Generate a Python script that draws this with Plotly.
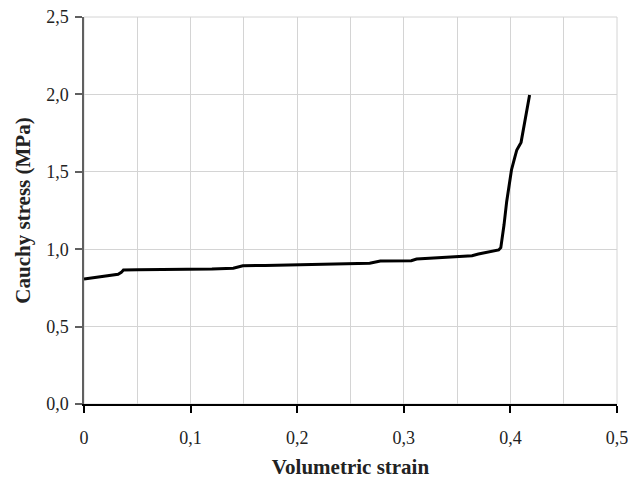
import plotly.graph_objects as go

# Data
strain = [0.000, 0.010, 0.020, 0.032, 0.035, 0.037, 0.050, 0.070, 0.099, 0.120, 0.140, 0.145,
          0.149, 0.170, 0.198, 0.220, 0.250, 0.268, 0.278, 0.296, 0.307, 0.312, 0.330, 0.350,
          0.364, 0.370, 0.380, 0.389, 0.391, 0.393, 0.394, 0.3965, 0.399, 0.401, 0.404, 0.406,
          0.410, 0.414, 0.418]
stress = [0.807, 0.816, 0.826, 0.838, 0.850, 0.866, 0.867, 0.868, 0.869, 0.872, 0.877, 0.884,
          0.893, 0.895, 0.900, 0.905, 0.910, 0.910, 0.924, 0.926, 0.926, 0.936, 0.943, 0.952,
          0.958, 0.969, 0.982, 0.995, 1.010, 1.090, 1.156, 1.307, 1.420, 1.512, 1.590, 1.641,
          1.690, 1.850, 1.996]

x_tickvals = [0, 0.1, 0.2, 0.3, 0.4, 0.5]
x_ticktext = ["0", "0,1", "0,2", "0,3", "0,4", "0,5"]
y_tickvals = [0, 0.5, 1.0, 1.5, 2.0, 2.5]
y_ticktext = ["0,0", "0,5", "1,0", "1,5", "2,0", "2,5"]

x_title = "Volumetric strain"
y_title = "Cauchy stress (MPa)"

FONT = "Liberation Serif"
GRID = "#d4d4d4"

fig = go.Figure()
fig.add_trace(go.Scatter(x=strain, y=stress, mode="lines",
                         line=dict(color="black", width=3), showlegend=False,
                         cliponaxis=False))

fig.update_layout(
    width=628, height=484,
    margin=dict(l=84, r=11, t=17, b=80, autoexpand=False),
    paper_bgcolor="white", plot_bgcolor="white",
    font=dict(family=FONT, size=18, color="#222222"),
    shapes=[dict(type="rect", xref="paper", yref="paper", x0=0, x1=1, y0=0, y1=1,
                 line=dict(color=GRID, width=1), layer="below")],
)

fig.update_xaxes(
    range=[0, 0.5], tickvals=x_tickvals, ticktext=x_ticktext,
    showgrid=True, gridcolor=GRID, gridwidth=1,
    minor=dict(dtick=0.05, tick0=0, showgrid=True, gridcolor=GRID, gridwidth=1, ticks=""),
    showline=True, linecolor="black", linewidth=1.5,
    ticks="outside", ticklen=7, tickcolor="black", tickwidth=1.5,
    ticklabelstandoff=10, ticklabeloverflow="allow",
    zeroline=False, automargin=False,
    title=dict(text="<b>" + x_title + "</b>", font=dict(family=FONT, size=21, color="#222222"), standoff=12),
)
fig.update_yaxes(
    range=[0, 2.5], tickvals=y_tickvals, ticktext=y_ticktext,
    showgrid=True, gridcolor=GRID, gridwidth=1,
    showline=True, linecolor="#606060", linewidth=1.5,
    ticks="outside", ticklen=7, tickcolor="#606060", tickwidth=1.5,
    ticklabelstandoff=3, ticklabeloverflow="allow",
    zeroline=False, automargin=False,
    title=dict(text="<b>" + y_title + "</b>", font=dict(family=FONT, size=21, color="#222222"), standoff=10),
)

fig.write_html(
    "out.html",
    config={"displayModeBar": False},
    post_script="document.body.style.margin='0';document.body.style.overflow='hidden';",
)
